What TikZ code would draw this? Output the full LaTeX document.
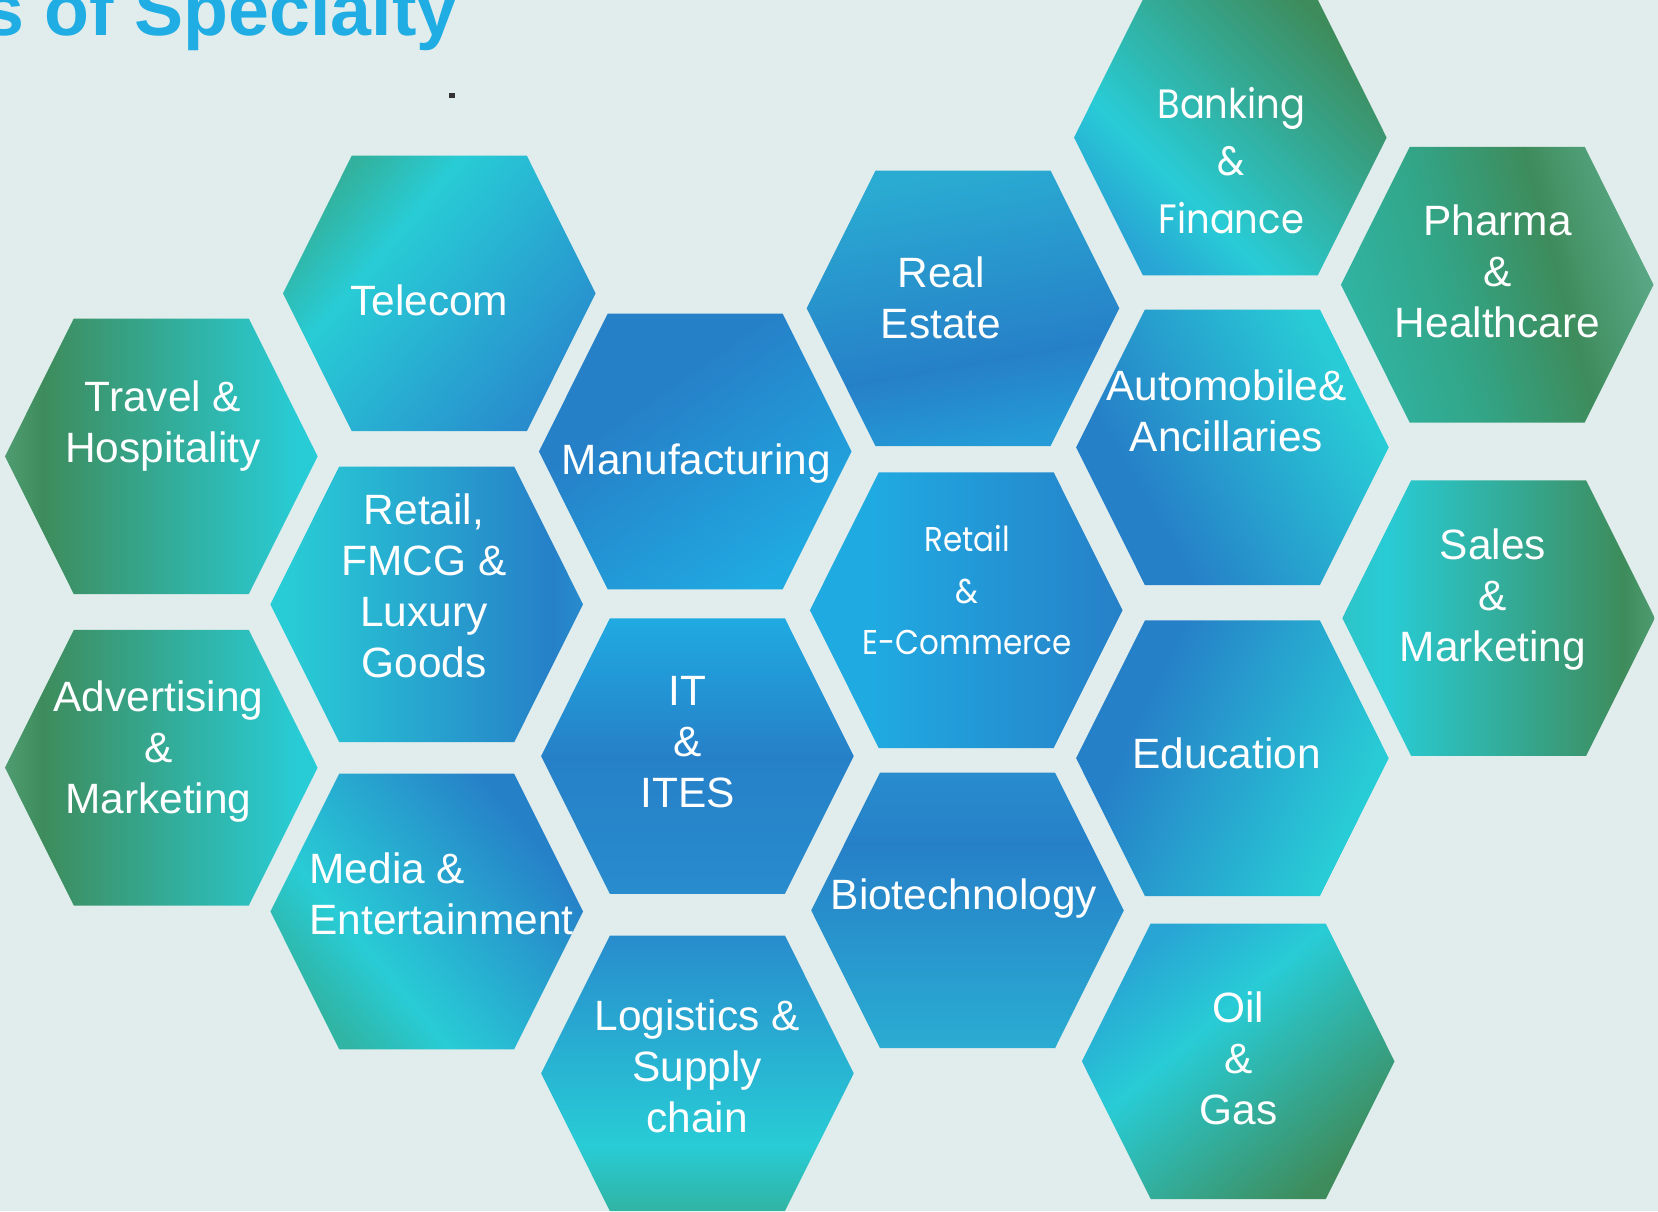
\documentclass[tikz,border=0pt]{standalone}
\usepackage{fontspec}
\setmainfont{Liberation Sans}
\newfontfamily\geofont[FakeStretch=0.9]{Poppins}
\usetikzlibrary{shadings}
\definecolor{bgc}{RGB}{225,237,236}
\definecolor{titleblue}{RGB}{31,173,228}
\definecolor{cG}{RGB}{62,140,92}
\definecolor{cGl}{RGB}{90,168,134}
\definecolor{cGe}{RGB}{80,156,114}
\definecolor{cT}{RGB}{48,180,163}
\definecolor{cTc}{RGB}{45,196,200}
\definecolor{cC}{RGB}{40,204,214}
\definecolor{cB}{RGB}{38,128,200}
\definecolor{cBe}{RGB}{40,140,205}
\definecolor{cBl}{RGB}{32,170,226}
\definecolor{cBt}{RGB}{42,172,210}
\definecolor{cBc}{RGB}{40,165,212}
\definecolor{cBr}{RGB}{36,155,215}
\definecolor{cGt}{RGB}{50,165,135}
\definecolor{cTl}{RGB}{50,178,158}
\pgfdeclarehorizontalshading{shTravel}{100bp}{color(0bp)=(cGe); color(25bp)=(cGe); color(31bp)=(cG); color(72bp)=(cC); color(100bp)=(cC)}
\pgfdeclarehorizontalshading{shRetail}{100bp}{color(0bp)=(cC); color(28bp)=(cC); color(70bp)=(cB); color(75bp)=(cBe); color(100bp)=(cBe)}
\pgfdeclarehorizontalshading{shSales}{100bp}{color(0bp)=(cTc); color(25bp)=(cTc); color(32bp)=(cC); color(70bp)=(cG); color(75bp)=(cGe); color(100bp)=(cGe)}
\pgfdeclarehorizontalshading{shPharma}{100bp}{color(0bp)=(cT); color(25bp)=(cT); color(42bp)=(cGt); color(60bp)=(cG); color(75bp)=(cGl); color(100bp)=(cGl)}
\pgfdeclarehorizontalshading{shEcom}{100bp}{color(0bp)=(cBl); color(35bp)=(cBl); color(75bp)=(cB); color(100bp)=(cB)}
\pgfdeclarehorizontalshading{shTelecom}{100bp}{color(0bp)=(cTl); color(25bp)=(cTl); color(38bp)=(cC); color(75bp)=(cBe); color(100bp)=(cBe)}
\pgfdeclarehorizontalshading{shMedia}{100bp}{color(0bp)=(cT); color(25bp)=(cT); color(38bp)=(cC); color(72bp)=(cB); color(100bp)=(cB)}
\pgfdeclarehorizontalshading{shManuf}{100bp}{color(0bp)=(cB); color(38bp)=(cB); color(75bp)=(cBl); color(100bp)=(cBl)}
\pgfdeclarehorizontalshading{shIT}{100bp}{color(0bp)=(cBe); color(25bp)=(cBe); color(50bp)=(cB); color(75bp)=(cBl); color(100bp)=(cBl)}
\pgfdeclarehorizontalshading{shLog}{100bp}{color(0bp)=(cT); color(25bp)=(cT); color(37bp)=(cC); color(75bp)=(cBe); color(100bp)=(cBe)}
\pgfdeclarehorizontalshading{shReal}{100bp}{color(0bp)=(cBr); color(25bp)=(cBr); color(40bp)=(cB); color(75bp)=(cBt); color(100bp)=(cBt)}
\pgfdeclarehorizontalshading{shBio}{100bp}{color(0bp)=(cBt); color(25bp)=(cBt); color(62bp)=(cB); color(75bp)=(cBe); color(100bp)=(cBe)}
\pgfdeclarehorizontalshading{shBank}{100bp}{color(0bp)=(cBc); color(25bp)=(cBc); color(38bp)=(cC); color(75bp)=(cG); color(100bp)=(cG)}
\pgfdeclarehorizontalshading{shAuto}{100bp}{color(0bp)=(cB); color(33bp)=(cB); color(72bp)=(cC); color(100bp)=(cC)}
\pgfdeclarehorizontalshading{shOil}{100bp}{color(0bp)=(cBc); color(25bp)=(cBc); color(42bp)=(cC); color(75bp)=(cG); color(100bp)=(cG)}
\newcommand\mlc[1]{\begin{tabular}[t]{@{}c@{}}#1\end{tabular}}
\newcommand\mll[1]{\begin{tabular}[t]{@{}l@{}}#1\end{tabular}}
\newcommand\hexcell[5]{%
  \coordinate (#1) at (#2,#3);
  \shade[shading=#4, shading angle=#5] ({#2-156.3},#3) -- ({#2-87.5},{#3-137.8}) -- ({#2+87.5},{#3-137.8}) -- ({#2+156.3},#3) -- ({#2+87.5},{#3+137.8}) -- ({#2-87.5},{#3+137.8}) -- cycle;}
\tikzset{
  lbl/.style={text=white, inner sep=0pt, anchor=base, font=\fontsize{21.2}{25.5}\selectfont},
  geobig/.style={text=white, inner sep=0pt, anchor=base, font=\geofont\fontsize{20.5}{28.7}\selectfont},
  geosmall/.style={text=white, inner sep=0pt, anchor=base, font=\geofont\fontsize{17.2}{25.7}\selectfont},
  titletext/.style={text=titleblue, inner sep=0pt, anchor=base east, font=\bfseries\fontsize{36.75}{44}\selectfont},
  dotmark/.style={fill=black!80, inner sep=0pt, minimum size=2.8pt}
}
\begin{document}
\begin{tikzpicture}[x=0.5pt, y=-0.5pt]
\useasboundingbox (0,0) rectangle (1658,1211);
\fill[bgc] (0,0) rectangle (1658,1211);
\begin{scope}
\clip (0,0) rectangle (1658,1211);
\node[titletext] (title) at (458,35) {s of Specialty};
\node[dotmark] (dot) at (452,95.3) {};

\hexcell{telecom}{439.3}{293.4}{shTelecom}{-40}
\hexcell{travel}{161.3}{456.3}{shTravel}{0}
\hexcell{advert}{161.3}{767.7}{shTravel}{0}
\hexcell{fmcg}{426.7}{604.3}{shRetail}{0}
\hexcell{media}{426.7}{911.5}{shMedia}{40}
\hexcell{manuf}{695.2}{451.5}{shManuf}{-55}
\hexcell{it}{697.4}{756.1}{shIT}{90}
\hexcell{logis}{697.4}{1073.3}{shLog}{90}
\hexcell{real}{963}{308.3}{shReal}{100}
\hexcell{ecom}{966.2}{610.2}{shEcom}{0}
\hexcell{bio}{967.5}{910.4}{shBio}{90}
\hexcell{bank}{1230.3}{137.5}{shBank}{45}
\hexcell{auto}{1232.4}{447.3}{shAuto}{30}
\hexcell{edu}{1232.4}{758.2}{shAuto}{-25}
\hexcell{oil}{1238.2}{1061.3}{shOil}{-50}
\hexcell{pharma}{1497.2}{284.7}{shPharma}{15}
\hexcell{sales}{1498.6}{618.1}{shSales}{0}

\node[lbl] (telecomT) at (429.3,315) {Telecom};
\node[lbl] (travelT) at (163,411.3) {\mlc{Travel \&\\Hospitality}};
\node[lbl] (advertT) at (158.4,711.7) {\mlc{Advertising\\\&\\Marketing}};
\node[lbl] (fmcgT) at (424,524) {\mlc{Retail,\\FMCG \&\\Luxury\\Goods}};
\node[lbl, anchor=base west] (mediaT) at (309.2,883.7) {\mll{Media \&\\Entertainment}};
\node[lbl] (manufT) at (696.3,474.5) {Manufacturing};
\node[lbl] (itT) at (687.8,705.3) {\mlc{IT\\\&\\ITES}};
\node[lbl] (logisT) at (697,1030) {\mlc{Logistics \&\\Supply\\chain}};
\node[lbl] (realT) at (941,287.3) {\mlc{Real\\Estate}};
\node[geosmall] (ecomT) at (967.2,551.7) {\mlc{Retail\\\&\\E-Commerce}};
\node[lbl] (bioT) at (963.9,909.8) {Biotechnology};
\node[geobig] (bankT) at (1231.3,118.3) {\mlc{Banking\\\&\\Finance}};
\node[lbl] (autoT) at (1226.5,400.8) {\mlc{Automobile\&\\Ancillaries}};
\node[lbl] (eduT) at (1226.5,768.6) {Education};
\node[lbl] (oilT) at (1238.3,1022.7) {\mlc{Oil\\\&\\Gas}};
\node[lbl] (pharmaT) at (1497.4,235) {\mlc{Pharma\\\&\\Healthcare}};
\node[lbl] (salesT) at (1493,559.8) {\mlc{Sales\\\&\\Marketing}};
\end{scope}
\end{tikzpicture}
\end{document}
